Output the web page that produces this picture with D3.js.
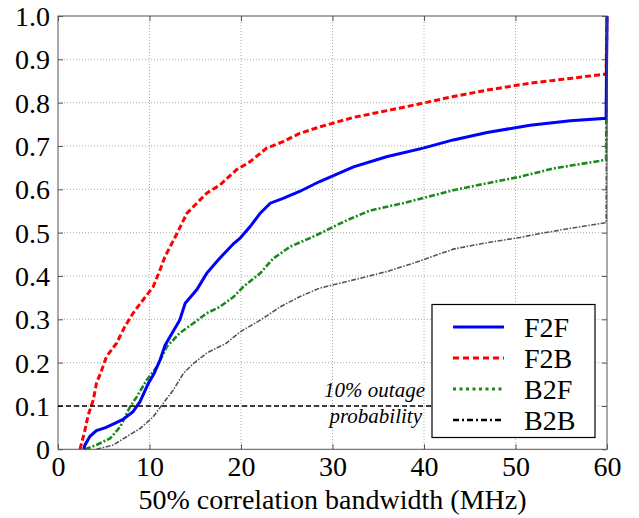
<!DOCTYPE html>
<html><head><meta charset="utf-8">
<script src="https://cdn.jsdelivr.net/npm/d3@7"></script>
<style>body{margin:0;background:#fff}svg{display:block}
svg text{font-family:"Liberation Serif","Tinos","Times New Roman",Times,"DejaVu Serif",serif !important;}
</style>
</head><body>
<svg id="c" width="639" height="518"></svg>
<script>
const seriesNames = ["F2F","F2B","B2F","B2B"];
const xTicks = [0,10,20,30,40,50,60];
const yTicks = [0,0.1,0.2,0.3,0.4,0.5,0.6,0.7,0.8,0.9,1.0];
const yTickLabels = ["0","0.1","0.2","0.3","0.4","0.5","0.6","0.7","0.8","0.9","1.0"];
const outageLevel = 0.1;

const f2f = [[2.8,0],[2.95,0.01],[3.5,0.03],[4.2,0.043],[5.2,0.05],[6.2,0.06],[7.1,0.069],[8.2,0.087],[8.96,0.11],[9.87,0.152],[10.5,0.175],[11.15,0.206],[11.7,0.24],[12.24,0.26],[13.3,0.298],[13.9,0.337],[15.16,0.368],[16.25,0.406],[17.5,0.437],[19.2,0.475],[19.9,0.487],[21,0.514],[22.1,0.545],[23.2,0.568],[24.6,0.579],[26.4,0.595],[28.6,0.618],[32.3,0.652],[35.9,0.675],[39.9,0.695],[43.2,0.714],[46.9,0.731],[51.6,0.748],[56,0.758],[59.9,0.764],[60,1]];
const f2b = [[2.4,0],[2.9,0.04],[3.3,0.079],[3.86,0.114],[4.2,0.152],[4.78,0.183],[5.3,0.214],[6.4,0.245],[7.3,0.283],[8.2,0.314],[9.3,0.345],[10.4,0.375],[11.15,0.414],[11.7,0.445],[13,0.498],[14.1,0.545],[15.5,0.575],[16.25,0.591],[17.7,0.61],[19.5,0.645],[21,0.664],[22.8,0.695],[24.6,0.71],[26.4,0.729],[28.6,0.744],[32.3,0.766],[37.7,0.789],[39.9,0.799],[43.2,0.814],[46.9,0.829],[51.6,0.845],[56,0.856],[59.9,0.866],[60,1]];
const b2f = [[2.95,0],[4.2,0.01],[5.7,0.025],[6.8,0.052],[7.87,0.098],[8.6,0.121],[9.7,0.16],[10.8,0.19],[11.9,0.237],[13.3,0.268],[14.8,0.291],[16.25,0.314],[17.7,0.329],[19.2,0.352],[20.25,0.375],[22.1,0.406],[23.5,0.44],[25.4,0.468],[27.5,0.487],[28.6,0.498],[31.6,0.529],[34.1,0.551],[37.7,0.568],[43.2,0.598],[46.9,0.614],[50.5,0.629],[54.1,0.648],[59.9,0.668],[60,1]];
const b2b = [[4.2,0],[6.05,0.01],[7.5,0.029],[8.96,0.048],[10.4,0.075],[11.5,0.106],[12.6,0.137],[13.7,0.175],[14.8,0.198],[16.25,0.222],[18.4,0.245],[19.9,0.271],[22.1,0.298],[24.3,0.329],[26.4,0.352],[28.6,0.372],[32.3,0.391],[35.9,0.41],[39.2,0.432],[43.2,0.462],[46.9,0.477],[50.5,0.489],[52.7,0.498],[56,0.51],[59.9,0.523],[60,1]];

const seriesData = [f2f,f2b,b2f,b2b];
const styles = [
  {color:"#0000ff", width:3, dash:null},
  {color:"#ff0000", width:3, dash:"6,3"},
  {color:"#1a8a1a", width:2.6, dash:"6,2,2,2"},
  {color:"#555555", width:1.6, dash:"5,1.5,1.5,1.5"}
];
const legendDash = [null,"6,4","3,3.5","6,3,2,3"];
const legendColor = ["#0000ff","#ff0000","#1a8a1a","#000000"];

const svg = d3.select("#c");
const L=58, R=607, T=16, B=449.3;
const x = d3.scaleLinear().domain([0,60]).range([L,R]);
const y = d3.scaleLinear().domain([0,1]).range([B,T]);

// grid
const g = svg.append("g");
g.selectAll(".vx").data(xTicks.slice(1,-1)).enter().append("line")
 .attr("x1",d=>x(d)).attr("x2",d=>x(d)).attr("y1",T).attr("y2",B)
 .attr("stroke","#aaa").attr("stroke-width",1).attr("stroke-dasharray","1,2");
g.selectAll(".hy").data(yTicks.slice(1,-1)).enter().append("line")
 .attr("y1",d=>y(d)).attr("y2",d=>y(d)).attr("x1",L).attr("x2",R)
 .attr("stroke","#aaa").attr("stroke-width",1).attr("stroke-dasharray","1,2");

// axes with inward ticks
const axB = d3.axisBottom(x).tickValues(xTicks).tickSize(-5).tickPadding(7).tickFormat(d3.format("d"));
const ba = svg.append("g").attr("transform",`translate(0,${B})`).call(axB);
const axT = d3.axisTop(x).tickValues(xTicks).tickSize(-5).tickFormat("");
const ta = svg.append("g").attr("transform",`translate(0,${T})`).call(axT);
const axL = d3.axisLeft(y).tickValues(yTicks).tickSize(-5).tickPadding(8).tickFormat((d,i)=>yTickLabels[i]);
const la = svg.append("g").attr("transform",`translate(${L},0)`).call(axL);
const axR = d3.axisRight(y).tickValues(yTicks).tickSize(-5).tickFormat("");
const ra = svg.append("g").attr("transform",`translate(${R},0)`).call(axR);
[ba,ta,la,ra].forEach(a=>{
  a.attr("font-family",null).attr("font-size",null);
  a.select(".domain").remove();
  a.selectAll(".tick line").attr("stroke","#555");
  a.selectAll("text").attr("font-size",28).attr("fill","#000");
});
ba.selectAll("text").attr("dy","0.72em");
la.selectAll("text").attr("dy","0.34em");

// curves
const line = d3.line().x(d=>x(d[0])).y(d=>y(d[1]));
seriesData.slice().reverse().forEach((s,ri)=>{
  const i = seriesData.length-1-ri;
  svg.append("path").attr("d",line(s)).attr("fill","none")
   .attr("stroke",styles[i].color).attr("stroke-width",styles[i].width)
   .attr("stroke-dasharray",styles[i].dash);
});

// frame
svg.append("rect").attr("x",L).attr("y",T).attr("width",R-L).attr("height",B-T)
 .attr("fill","none").attr("stroke","#555").attr("stroke-width",1);

// legend geometry
const lgX=432, lgY=304.5, lgW=163, lgH=133;

// outage line
svg.append("line").attr("x1",L).attr("x2",lgX).attr("y1",y(outageLevel)).attr("y2",y(outageLevel))
 .attr("stroke","#000").attr("stroke-width",1.5).attr("stroke-dasharray","5,3");
svg.append("text").attr("x",425).attr("y",397).attr("text-anchor","end")
 .attr("font-style","italic").attr("font-size",21).text("10% outage");
svg.append("text").attr("x",422).attr("y",423).attr("text-anchor","end")
 .attr("font-style","italic").attr("font-size",21).text("probability");

// legend
svg.append("rect").attr("x",lgX).attr("y",lgY).attr("width",lgW).attr("height",lgH)
 .attr("fill","#fff").attr("stroke","#000").attr("stroke-width",1.2);
seriesNames.forEach((n,i)=>{
  const yy = 327 + i*31;
  svg.append("line").attr("x1",453).attr("x2",504).attr("y1",yy).attr("y2",yy)
   .attr("stroke",legendColor[i]).attr("stroke-width",i===3?2.5:3).attr("stroke-dasharray",legendDash[i]);
  svg.append("text").attr("x",524).attr("y",yy+10).attr("font-size",28).text(n);
});

// x label
svg.append("text").attr("x",(L+R)/2).attr("y",509).attr("text-anchor","middle")
 .attr("font-size",28).text("50% correlation bandwidth (MHz)");
</script>
</body></html>
